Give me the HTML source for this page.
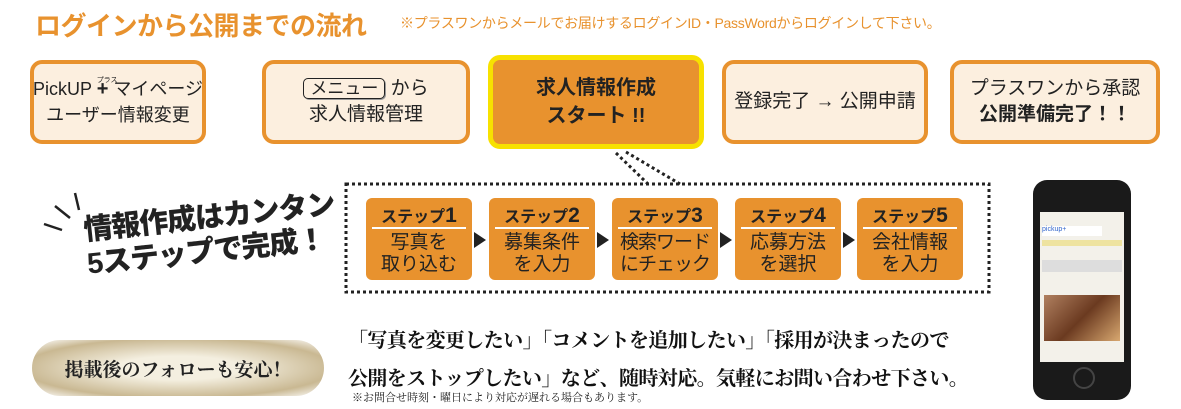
<!DOCTYPE html>
<html><head><meta charset="utf-8"><style>
body{margin:0;width:1181px;height:409px;background:#fff;position:relative;overflow:hidden;font-family:"Liberation Sans","Noto Sans CJK JP",sans-serif;}
.a{position:absolute;}
.box{position:absolute;top:60px;height:76px;border:4px solid #e8922e;border-radius:12px;background:#fcefdf;box-sizing:content-box;display:flex;flex-direction:column;align-items:center;justify-content:center;font-size:19px;line-height:26px;color:#222;text-align:center;white-space:nowrap;}
.step{position:absolute;top:198px;width:106px;height:82px;background:#e8922e;border-radius:6px;text-align:center;color:#222;}
.step .h{font-size:16px;font-weight:bold;margin-top:5px;height:22px}
.step .h b{font-size:21px}
.step .ln{margin:2px 6px;border-top:2px solid #fff;height:0}
.step .t{font-size:19px;line-height:22px;margin-top:3px}
.arr{position:absolute;top:232px;width:0;height:0;border-top:8px solid transparent;border-bottom:8px solid transparent;border-left:12px solid #222;}
.serif{font-family:"Liberation Serif","Noto Serif CJK SC",serif;}
</style></head><body>
<div class="a" style="left:35px;top:6px;font-size:26px;font-weight:bold;color:#e8922e;letter-spacing:-0.5px">ログインから公開までの流れ</div>
<div class="a" style="left:400px;top:13px;font-size:14px;color:#e8922e;letter-spacing:-0.3px">※プラスワンからメールでお届けするログインID・PassWordからログインして下さい。</div>

<div class="box" style="left:30px;width:168px;font-size:18px">
<div>PickUP <span style="position:relative;font-size:20px;font-weight:bold">+<span style="position:absolute;left:0;top:-10px;font-size:7px;font-weight:normal">プラス</span></span> マイページ</div><div>ユーザー情報変更</div></div>
<div class="box" style="left:262px;width:200px">
<div><span style="border:1.5px solid #222;border-radius:5px;padding:0 6px;font-size:17px;box-shadow:1px 1px 0 #999">メニュー</span> から</div><div>求人情報管理</div></div>
<div class="box" style="left:488px;top:55px;width:206px;height:84px;border:5px solid #f7e100;background:#e8922e;font-weight:bold;font-size:20px;line-height:28px">
<div>求人情報作成</div><div>スタート !!</div></div>
<div class="box" style="left:722px;width:198px"><div>登録完了 → 公開申請</div></div>
<div class="box" style="left:950px;width:202px"><div>プラスワンから承認</div><div style="font-weight:bold">公開準備完了！！</div></div>

<svg class="a" style="left:0;top:0" width="1181" height="409">
<rect x="346" y="184" width="643" height="108" fill="none" stroke="#222" stroke-width="3" stroke-dasharray="3 3"/>
<line x1="616" y1="153" x2="648" y2="184" stroke="#222" stroke-width="3" stroke-dasharray="3 3"/>
<line x1="626" y1="152" x2="680" y2="184" stroke="#222" stroke-width="3" stroke-dasharray="3 3"/>
<line x1="55" y1="206" x2="70" y2="218" stroke="#222" stroke-width="2.5"/>
<line x1="44" y1="224" x2="62" y2="230" stroke="#222" stroke-width="2.5"/>
<line x1="75" y1="193" x2="79" y2="210" stroke="#222" stroke-width="2.5"/>
</svg>

<div class="a" style="left:82px;top:214px;transform:rotate(-6deg);transform-origin:left top;font-size:29px;font-weight:900;color:#222;line-height:34px;letter-spacing:-1px;white-space:nowrap">情報作成はカンタン<br>5ステップで完成！</div>

<div class="step" style="left:366px"><div class="h">ステップ<b>1</b></div><div class="ln"></div><div class="t">写真を<br>取り込む</div></div>
<div class="arr" style="left:474px"></div>
<div class="step" style="left:489px"><div class="h">ステップ<b>2</b></div><div class="ln"></div><div class="t">募集条件<br>を入力</div></div>
<div class="arr" style="left:597px"></div>
<div class="step" style="left:612px"><div class="h">ステップ<b>3</b></div><div class="ln"></div><div class="t" style="letter-spacing:-1px">検索ワード<br>にチェック</div></div>
<div class="arr" style="left:720px"></div>
<div class="step" style="left:735px"><div class="h">ステップ<b>4</b></div><div class="ln"></div><div class="t">応募方法<br>を選択</div></div>
<div class="arr" style="left:843px"></div>
<div class="step" style="left:857px"><div class="h">ステップ<b>5</b></div><div class="ln"></div><div class="t">会社情報<br>を入力</div></div>

<div class="a serif" style="left:32px;top:340px;width:292px;height:56px;border-radius:28px;background:radial-gradient(ellipse at center,#f4efe0 30%,#c9b892 75%,#fff 100%);display:flex;align-items:center;justify-content:center;font-size:19px;font-weight:bold;color:#222">掲載後のフォローも安心！</div>
<div class="a serif" style="left:348px;top:322px;font-size:20px;line-height:38px;font-weight:bold;color:#111;letter-spacing:-0.6px;white-space:nowrap">「写真を変更したい」「コメントを追加したい」「採用が決まったので<br>公開をストップしたい」など、随時対応。気軽にお問い合わせ下さい。</div>
<div class="a serif" style="left:352px;top:389px;font-size:11px;color:#222">※お問合せ時刻・曜日により対応が遅れる場合もあります。</div>

<div class="a" style="left:1033px;top:180px;width:98px;height:220px;background:#1a1a1a;border-radius:14px"></div>
<div class="a" style="left:1040px;top:212px;width:84px;height:150px;background:#f3f1ea"></div>
<div class="a" style="left:1042px;top:226px;width:60px;height:10px;background:#fff;font-size:7px;color:#36c">pickup+</div>
<div class="a" style="left:1042px;top:240px;width:80px;height:6px;background:#eee3a0"></div>
<div class="a" style="left:1042px;top:260px;width:80px;height:12px;background:#ddd"></div>
<div class="a" style="left:1044px;top:295px;width:76px;height:46px;background:linear-gradient(135deg,#b08060,#6b3a20 50%,#d8a870)"></div>
<div class="a" style="left:1073px;top:367px;width:18px;height:18px;border-radius:50%;border:2px solid #444"></div>
</body></html>
